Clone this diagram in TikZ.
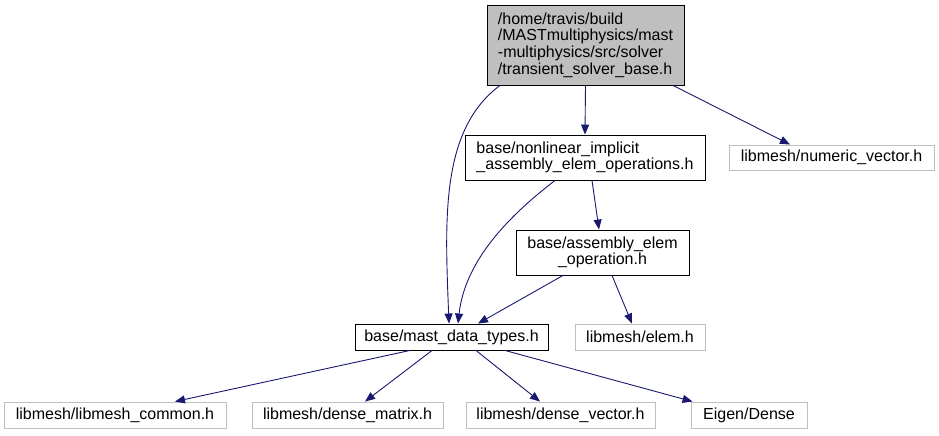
\documentclass[tikz,border=0pt]{standalone}
\usepackage{fontspec}
\setmainfont{Liberation Sans}
\usetikzlibrary{arrows.meta}
\definecolor{edgeblue}{HTML}{191970}
\definecolor{boxgray}{HTML}{BFBFBF}
\begin{document}
\begin{tikzpicture}[x=1pt,y=-1pt,
  box/.style={draw=black, line width=0.9pt, inner sep=0pt, font=\fontsize{16}{16.7}\selectfont},
  extbox/.style={box, draw=boxgray},
  edge/.style={draw=edgeblue, line width=0.9pt, -{Triangle[length=10pt,width=8pt]}}]
\useasboundingbox (0,0) rectangle (939,436);
\node[box, fill=boxgray, minimum width=197pt, minimum height=80pt, align=left] (top) at (585.5,45)
  {/home/travis/build\\/MASTmultiphysics/mast\\-multiphysics/src/solver\\/transient\_solver\_base.h};
\node[box, minimum width=240pt, minimum height=45pt, align=left] (nl) at (585,157.5)
  {base/nonlinear\_implicit\\\_assembly\_elem\_operations.h};
\node[extbox, minimum width=205pt, minimum height=25pt] (nv) at (831.5,157.5) {libmesh/numeric\_vector.h};
\node[box, minimum width=173pt, minimum height=45pt, align=center] (asm) at (602.5,252.5)
  {base/assembly\_elem\\\_operation.h};
\node[box, minimum width=193pt, minimum height=26pt] (mast) at (451.5,337) {base/mast\_data\_types.h};
\node[extbox, minimum width=130pt, minimum height=26pt] (elem) at (640,337) {libmesh/elem.h};
\node[extbox, minimum width=222pt, minimum height=26pt] (lc) at (115,415) {libmesh/libmesh\_common.h};
\node[extbox, minimum width=191pt, minimum height=26pt] (dm) at (347.5,415) {libmesh/dense\_matrix.h};
\node[extbox, minimum width=189pt, minimum height=26pt] (dv) at (560.5,415) {libmesh/dense\_vector.h};
\node[extbox, minimum width=116pt, minimum height=26pt] (eig) at (749,415) {Eigen/Dense};

\draw[edge] ([xshift=-85.5pt]top.south) .. controls (440,130) and (445,220) .. ([xshift=-2.5pt]mast.north);
\draw[edge] (top.south) -- (nl.north);
\draw[edge] ([xshift=87.5pt]top.south) -- ([xshift=-41.5pt]nv.north);
\draw[edge] ([xshift=-30pt]nl.south) .. controls (510,215) and (465,260) .. ([xshift=6.5pt]mast.north);
\draw[edge] ([xshift=7pt]nl.south) -- ([xshift=-3.5pt]asm.north);
\draw[edge] ([xshift=-39.5pt]asm.south) -- ([xshift=26.5pt]mast.north);
\draw[edge] ([xshift=9.5pt]asm.south) -- ([xshift=-8pt]elem.north);
\draw[edge] ([xshift=-41.5pt]mast.south) -- ([xshift=60pt]lc.north);
\draw[edge] ([xshift=-19.5pt]mast.south) -- ([xshift=17.5pt]dm.north);
\draw[edge] ([xshift=24.5pt]mast.south) -- ([xshift=-20.5pt]dv.north);
\draw[edge] ([xshift=53.5pt]mast.south) -- ([xshift=2pt]eig.north west);
\end{tikzpicture}
\end{document}
